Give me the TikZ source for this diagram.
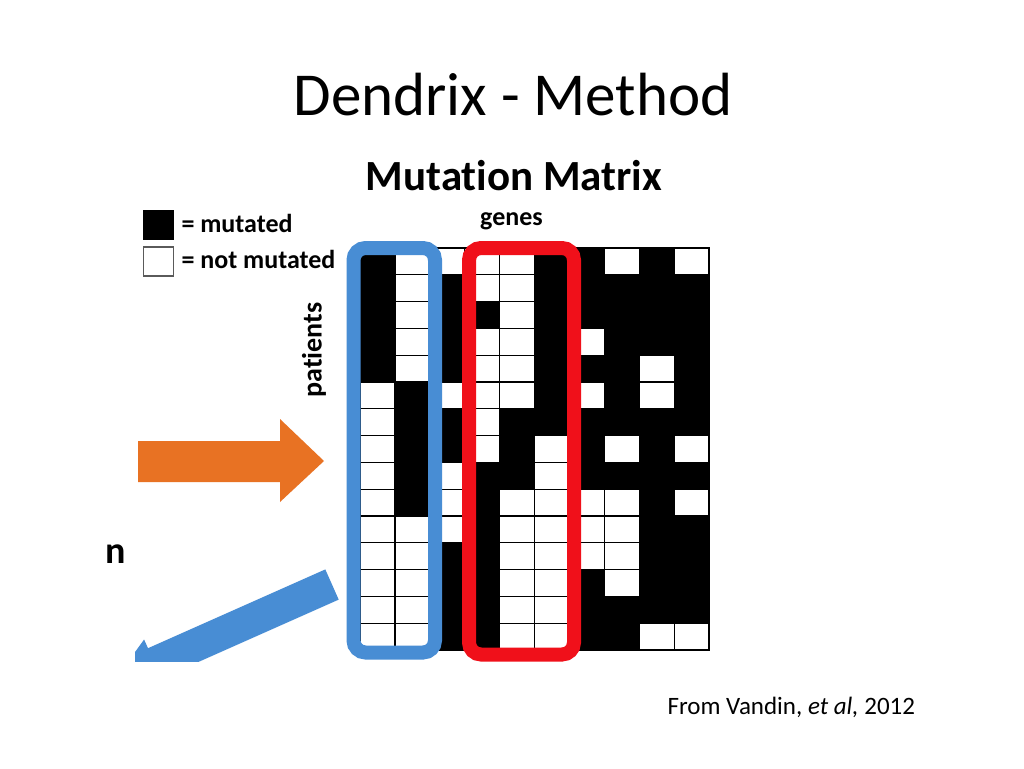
\documentclass[tikz,border=0pt]{standalone}
\usepackage{fontspec}
\setmainfont[Ligatures={NoCommon}]{Carlito}
\definecolor{orng}{RGB}{232,114,35}
\definecolor{bluebox}{RGB}{72,141,212}
\definecolor{redbox}{RGB}{240,16,26}
\definecolor{legendgray}{RGB}{90,90,90}
\tikzset{
  cellbox/.style={draw=black, line width=1.2pt, minimum width=34.9pt, minimum height=26.8pt, inner sep=0pt, outer sep=0pt},
  groupframe/.style={line width=14pt, rounded corners=12pt, inner sep=0pt, outer sep=0pt},
  lbl/.style={inner sep=0pt, outer sep=0pt, anchor=base},
}
\begin{document}
\begin{tikzpicture}[x=1pt,y=-1pt]
\fill[white] (0,0) rectangle (1024,768);
\useasboundingbox (0,0) rectangle (1024,768);

% title
\node[lbl, font=\fontsize{61}{70}\selectfont] (title) at (513,115) {Dendrix - Method};
% figure heading
\node[lbl, font=\bfseries\fontsize{43}{50}\selectfont] (heading) at (514,190) {Mutation Matrix};
\node[lbl, font=\bfseries\fontsize{26}{30}\selectfont] (genes) at (511.5,225) {genes};
\node[inner sep=0pt, font=\bfseries\fontsize{28}{32}\selectfont, rotate=90] (patients) at (314,350) {patients};

% legend
\node[draw=black, fill=black, line width=1pt, minimum width=30pt, minimum height=29pt, inner sep=0pt] (legblack) at (158.7,224.6) {};
\node[draw=legendgray, fill=white, line width=1.5pt, minimum width=30pt, minimum height=29pt, inner sep=0pt] (legwhite) at (158.7,261.7) {};
\node[lbl, anchor=base west, font=\bfseries\fontsize{26}{30}\selectfont] (legmut) at (181.5,232) {= mutated};
\node[lbl, anchor=base west, font=\bfseries\fontsize{26}{30}\selectfont] (legnot) at (181.5,268.5) {= not mutated};

% matrix
\foreach \rowvals [count=\r] in {
 {1,0,0,0,0,1,1,0,1,0},
 {1,0,1,0,0,1,1,1,1,1},
 {1,0,1,1,0,1,1,1,1,1},
 {1,0,1,0,0,1,0,1,1,1},
 {1,0,1,0,0,1,1,1,0,1},
 {0,1,0,0,0,1,0,1,0,1},
 {0,1,1,0,1,1,1,1,1,1},
 {0,1,1,0,1,0,1,0,1,0},
 {0,1,0,1,1,0,1,1,1,1},
 {0,1,0,1,0,0,0,0,1,0},
 {0,0,0,1,0,0,0,0,1,1},
 {0,0,1,1,0,0,0,0,1,1},
 {0,0,1,1,0,0,1,0,1,1},
 {0,0,1,1,0,0,1,1,1,1},
 {0,0,1,1,0,0,1,1,0,0}}{
  \foreach \v [count=\c] in \rowvals {
    \ifnum\v=1 \def\cc{black}\else\def\cc{white}\fi
    \node[cellbox, fill=\cc] (m-\r-\c) at ({360+34.9*(\c-0.5)},{248+26.8*(\r-0.5)}) {};
  }
}
\draw[line width=1.2pt] (m-1-1.north west) rectangle (m-15-10.south east);

% group frames
\node[draw=bluebox, groupframe, minimum width=81.5pt, minimum height=404.5pt] (bluegroup) at (394.25,450.25) {};
\node[draw=redbox, groupframe, minimum width=105pt, minimum height=406.5pt] (redgroup) at (521.5,451.25) {};

% arrows
\fill[orng] (138,441) -- (280,441) -- (280,419) -- (324,461) -- (280,502) -- (280,482) -- (138,482) -- cycle;
\begin{scope}
\clip (135,150) rectangle (715,661);
\fill[bluebox] (325.3,569.4) -- (148,648.2) -- (144.1,639.5) -- (113.6,681.6) -- (165.3,687) -- (161.4,678.4) -- (338.7,599.6) -- cycle;
\end{scope}

% cut-off text
\node[lbl, anchor=base west, font=\bfseries\fontsize{38}{44}\selectfont] (cutn) at (105.5,563) {n};

% source
\node[lbl, font=\fontsize{25}{30}\selectfont] (source) at (791.3,714) {From Vandin, \textit{et al,} 2012};
\end{tikzpicture}
\end{document}
